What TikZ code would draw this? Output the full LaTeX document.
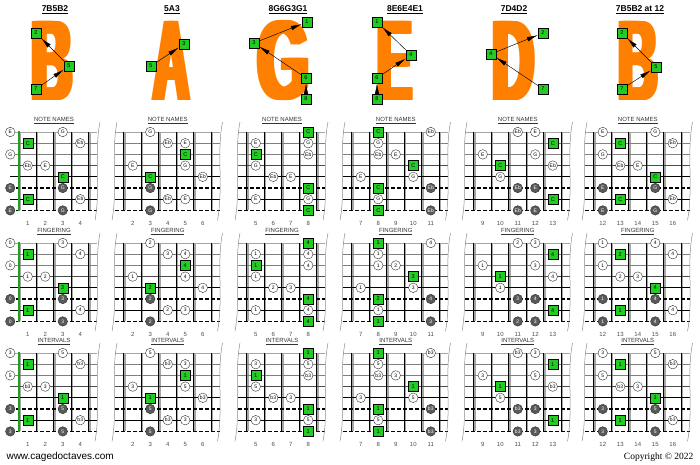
\documentclass[tikz,border=0pt]{standalone}
\usepackage{fontspec}
\setmainfont{Liberation Sans}
\newfontfamily\copyfont{Liberation Serif}
\usetikzlibrary{arrows.meta}

\definecolor{shapeorange}{RGB}{255,128,0}
\definecolor{rootgreen}{RGB}{34,204,34}

\def\fw{17.5}
\def\sw{11.2}

% heavy letter: the glyph set seven times, a little apart
\newcommand{\fatletter}[1]{\rlap{#1}\kern.2pt\rlap{#1}\kern.2pt\rlap{#1}\kern.2pt\rlap{#1}\kern.2pt\rlap{#1}\kern.2pt\rlap{#1}\kern.2pt#1}

\tikzset{
  rootbox/.style={draw=black, fill=rootgreen, minimum size=10pt, inner sep=0pt, font=\fontsize{5.5}{6}\selectfont},
  notedot/.style={circle, draw=black!80, fill=white, minimum size=9.5pt, inner sep=0pt, font=\fontsize{5}{5}\selectfont},
  lowdot/.style={notedot, fill=black!65, text=white},
  shapeletter/.style={text=shapeorange, inner sep=0pt, font=\bfseries},
  toptitle/.style={font=\bfseries\fontsize{8.5}{9}\selectfont},
  paneltitle/.style={font=\fontsize{6}{6}\selectfont, text=black!80},
  fretnum/.style={font=\fontsize{6}{6}\selectfont, text=black!70},
  shapearrow/.style={-{Latex[length=11pt,width=4.5pt]}, line width=0.45pt},
  fretband/.style={black!35, line width=2pt},
  fretwire/.style={black, line width=0.5pt},
  edgeline/.style={black!45, line width=0.5pt},
  str0/.style={black!35, line width=0.5pt},
  str1/.style={black!50, line width=0.5pt},
  str2/.style={black!70, line width=0.6pt},
  str3/.style={black, line width=0.8pt},
  str5/.style={black, line width=1.3pt, dash pattern=on 4pt off 2pt},
  str6/.style={black, line width=1.3pt}
}

% one fretboard: name, x of first fret line, y of top string, frets, first fret, nut(0)/wave(1), title
\newcommand{\neck}[7]{%
  \begin{scope}[shift={(#2,#3)}]
    \foreach \i in {0,...,#4}
      \draw[fretband] (\i*\fw+0.8,0) -- (\i*\fw+0.8,7*\sw);
    \foreach \s/\st in {0/str0,1/str1,2/str1,3/str2,4/str3,5/str5,6/str6,7/str5}
      \draw[style=\st] (-9,\s*\sw) -- (#4*\fw+8,\s*\sw);
    \foreach \i in {0,...,#4}
      \draw[fretwire] (\i*\fw-0.6,0) -- (\i*\fw-0.6,7*\sw);
    \ifnum#6=0
      \draw[rootgreen!80!black, line width=2.4pt] (0,-1) -- (0,7*\sw+1);
    \else
      \draw[edgeline] (-7,-10) .. controls (-13,20) and (-6,55) .. (-12,7*\sw+10);
    \fi
    \draw[edgeline] (#4*\fw+11,-10) .. controls (#4*\fw+5,20) and (#4*\fw+12,55) .. (#4*\fw+6,7*\sw+10);
    \node[paneltitle] (#1-t) at (#4*\fw/2,-11.5) {\underline{#7}};
    \foreach \i [evaluate=\i as \fn using int(\i+#5-1)] in {1,...,#4}
      \node[fretnum] (#1-f\i) at ({(\i-0.5)*\fw},7*\sw+13) {\fn};
  \end{scope}}

% notes of one shape in the three panels: column, x of first fret line, first fret, list
\newcommand{\shapenotes}[4]{%
  \foreach \s/\f/\k/\nm/\fg/\iv in {#4}{
    \node[style=\k] (nn#1-\s-\f) at ({#2+(\f-#3+0.5)*\fw},{132+\s*\sw}) {\nm};
    \node[style=\k] (fg#1-\s-\f) at ({#2+(\f-#3+0.5)*\fw},{243+\s*\sw}) {\fg};
    \node[style=\k] (iv#1-\s-\f) at ({#2+(\f-#3+0.5)*\fw},{353+\s*\sw}) {\iv};
  }}

\begin{document}
\begin{tikzpicture}[x=1pt,y=-1pt]
  \useasboundingbox (0,0) rectangle (700,464);

  % Titles
  \node[toptitle] (t1) at (55,10) {\underline{7B5B2}};
  \node[toptitle] (t2) at (172,10) {\underline{5A3}};
  \node[toptitle] (t3) at (288,10) {\underline{8G6G3G1}};
  \node[toptitle] (t4) at (405,10) {\underline{8E6E4E1}};
  \node[toptitle] (t5) at (514,10) {\underline{7D4D2}};
  \node[toptitle] (t6) at (640,10) {\underline{7B5B2 at 12}};

  % CAGED letters
  \node[shapeletter] (L1) at (52.5,61) {\resizebox{47pt}{79pt}{\fatletter{B}}};
  \node[shapeletter] (L2) at (172,61) {\resizebox{42pt}{79pt}{\fatletter{A}}};
  \node[shapeletter] (L3) at (284,61) {\resizebox{58pt}{79pt}{\fatletter{G}}};
  \node[shapeletter] (L4) at (395,61) {\resizebox{41pt}{79pt}{\fatletter{E}}};
  \node[shapeletter] (L5) at (514,61) {\resizebox{48pt}{79pt}{\fatletter{D}}};
  \node[shapeletter] (L6) at (638,61) {\resizebox{46pt}{79pt}{\fatletter{B}}};

  % Root strings on the letters
  \foreach \c/\s/\x/\y in {1/2/36/33, 1/5/69/66, 1/7/36/89,
                           2/3/184/44, 2/5/151/66,
                           3/1/307/22, 3/3/254/43, 3/6/306/78, 3/8/306/99,
                           4/1/377/22, 4/4/411/55, 4/6/377/78, 4/8/377/99,
                           5/2/543/33, 5/4/491/54, 5/7/543/89,
                           6/2/622/33, 6/5/656/67, 6/7/622/89}
    \node[rootbox] (r\c-\s) at (\x,\y) {\s};

  \foreach \a/\b in {1-7/1-5, 1-5/1-2, 2-5/2-3, 3-8/3-6, 3-6/3-3, 3-3/3-1,
                     4-8/4-6, 4-6/4-4, 4-4/4-1, 5-7/5-4, 5-4/5-2, 6-7/6-5, 6-5/6-2}
    \draw[shapearrow] (r\a) -- (r\b);

  % Fretboards
  \foreach \c/\x/\nf/\ff/\ee in {1/19/4/1/0, 2/124/5/2/1, 3/247/4/5/1,
                                 4/352/5/7/1, 5/474/5/9/1, 6/594/5/12/1}{
    \neck{nn\c}{\x}{132}{\nf}{\ff}{\ee}{NOTE NAMES}
    \neck{fg\c}{\x}{243}{\nf}{\ff}{\ee}{FINGERING}
    \neck{iv\c}{\x}{353}{\nf}{\ff}{\ee}{INTERVALS}
  }

  % ---- Notes: string/fret/style/name/finger/interval ----
  % B shape
  \shapenotes{1}{19}{1}{0/0/notedot/E/0/3, 0/3/notedot/G/3/5, 1/1/rootbox/C/1/1,
    1/4/notedot/Eb/4/b3, 2/0/notedot/G/0/5, 3/1/notedot/Eb/1/b3, 3/2/notedot/E/2/3,
    4/3/rootbox/C/3/1, 5/0/lowdot/E/0/3, 5/3/lowdot/G/3/5, 6/1/rootbox/C/1/1,
    6/4/notedot/Eb/4/b3, 7/0/lowdot/E/0/3, 7/3/lowdot/G/3/5}
  % A shape
  \shapenotes{2}{124}{2}{0/3/notedot/G/2/5, 1/4/notedot/Eb/3/b3, 1/5/notedot/E/4/3,
    2/5/rootbox/C/4/1, 3/2/notedot/E/1/3, 3/5/notedot/G/4/5, 4/3/rootbox/C/2/1,
    4/6/notedot/Eb/4/b3, 5/3/lowdot/G/2/5, 6/4/notedot/Eb/2/b3, 6/5/notedot/E/3/3,
    7/3/lowdot/G/2/5}
  % G shape
  \shapenotes{3}{247}{5}{0/8/rootbox/C/4/1, 1/5/notedot/E/1/3, 1/8/notedot/G/4/5,
    2/5/rootbox/C/1/1, 2/8/notedot/Eb/4/b3, 3/5/notedot/G/1/5, 4/6/notedot/Eb/2/b3,
    4/7/notedot/E/3/3, 5/8/rootbox/C/4/1, 6/5/notedot/E/1/3, 6/8/notedot/G/4/5,
    7/8/rootbox/C/4/1}
  % E shape
  \shapenotes{4}{352}{7}{0/8/rootbox/C/1/1, 0/11/notedot/Eb/4/b3, 1/8/notedot/G/1/5,
    2/8/notedot/Eb/1/b3, 2/9/notedot/E/2/3, 3/10/rootbox/C/3/1, 4/7/notedot/E/1/3,
    4/10/notedot/G/3/5, 5/8/rootbox/C/2/1, 5/11/lowdot/Eb/4/b3, 6/8/notedot/G/1/5,
    7/8/rootbox/C/1/1, 7/11/lowdot/Eb/3/b3}
  % D shape
  \shapenotes{5}{474}{9}{0/11/notedot/Eb/2/b3, 0/12/notedot/E/3/3, 1/13/rootbox/C/4/1,
    2/9/notedot/E/1/3, 2/12/notedot/G/3/5, 3/10/rootbox/C/1/1, 3/13/notedot/Eb/4/b3,
    4/10/notedot/G/1/5, 5/11/lowdot/Eb/3/b3, 5/12/lowdot/E/4/3, 6/13/rootbox/C/4/1,
    7/11/lowdot/Eb/2/b3, 7/12/lowdot/E/3/3}
  % B shape at 12
  \shapenotes{6}{594}{12}{0/12/notedot/E/1/3, 0/15/notedot/G/4/5, 1/13/rootbox/C/2/1,
    1/16/notedot/Eb/4/b3, 2/12/notedot/G/1/5, 3/13/notedot/Eb/2/b3, 3/14/notedot/E/3/3,
    4/15/rootbox/C/4/1, 5/12/lowdot/E/1/3, 5/15/lowdot/G/4/5, 6/13/rootbox/C/1/1,
    6/16/notedot/Eb/4/b3, 7/12/lowdot/E/1/3, 7/15/lowdot/G/4/5}

  % Footer
  \node[anchor=base west, font=\fontsize{10}{12}\selectfont] (url) at (3,459) {www.cagedoctaves.com};
  \node[anchor=base east, font=\copyfont\fontsize{9.5}{11}\selectfont] (copy) at (697,459) {Copyright © 2022};

\end{tikzpicture}
\end{document}
